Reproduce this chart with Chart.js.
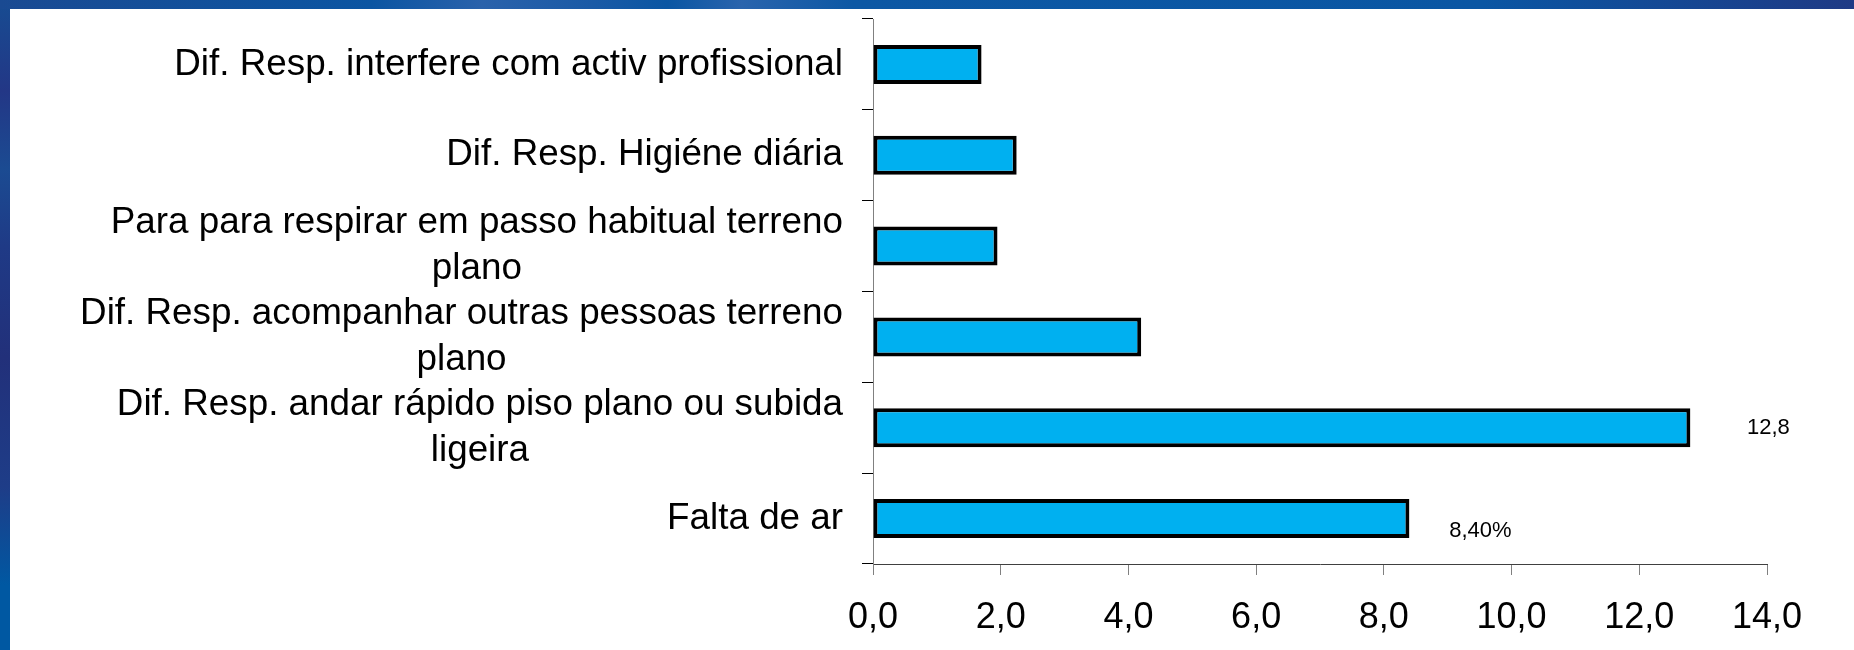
<!DOCTYPE html>
<html><head><meta charset="utf-8">
<script src="https://cdn.jsdelivr.net/npm/chart.js@4.4.1/dist/chart.umd.min.js"></script>
<style>
html,body{margin:0;padding:0;width:1854px;height:650px;overflow:hidden;}
body{position:relative;background:linear-gradient(180deg,#174c92 0%,#233786 14%,#1b4b92 26%,#1f3a86 38%,#22307a 55%,#1e3d88 75%,#0058a2 90%,#0058a2 100%);}
#top{position:absolute;left:0;top:0;width:1854px;height:9px;background:linear-gradient(90deg,#1a4a92 0%,#0b55a2 20%,#2a62ab 26%,#1a5aa6 32%,#0a56a3 36%,#2a64ad 40%,#0d58a4 46%,#0a56a3 80%,#1f3a85 100%);}
#panel{position:absolute;left:10px;top:9px;right:0;bottom:0;background:#fff;}
#wrap{position:absolute;left:0;top:0;width:1854px;height:650px;}
</style></head>
<body><div id="top"></div><div id="panel"></div><div id="wrap"><canvas id="c" width="1854" height="650"></canvas></div>
<script>
const categories = [
  ['Dif. Resp. interfere com activ profissional'],
  ['Dif. Resp. Higiéne diária'],
  ['Para para respirar em passo habitual terreno', 'plano'],
  ['Dif. Resp. acompanhar outras pessoas terreno', 'plano'],
  ['Dif. Resp. andar rápido piso plano ou subida', 'ligeira'],
  ['Falta de ar']
];
const values = [1.7, 2.25, 1.95, 4.2, 12.8, 8.4];
const valueLabels = ['', '', '', '', '12,8', '8,40%'];
const xTickLabels = ['0,0', '2,0', '4,0', '6,0', '8,0', '10,0', '12,0', '14,0'];

const FONT = '"Liberation Sans", Arial, sans-serif';

const catLabelPlugin = {
  id: 'catLabels',
  afterDraw(chart) {
    const ctx = chart.ctx, y = chart.scales.y;
    const right = y.right - 11 - 19;
    const lh = 46;
    ctx.save();
    ctx.font = '36.8px ' + FONT;
    ctx.fillStyle = '#000';
    ctx.textBaseline = 'middle';
    ctx.textAlign = 'center';
    categories.forEach((lines, i) => {
      const cy = y.getPixelForValue(i);
      const W = Math.max(...lines.map(l => ctx.measureText(l).width));
      lines.forEach((l, k) => {
        ctx.fillText(l, right - W / 2, cy + (k - (lines.length - 1) / 2) * lh);
      });
    });
    ctx.restore();
  }
};

const valueLabelPlugin = {
  id: 'valueLabels',
  afterDatasetsDraw(chart, args, opts) {
    const ctx = chart.ctx;
    const meta = chart.getDatasetMeta(0);
    ctx.save();
    ctx.font = '22px ' + FONT;
    ctx.fillStyle = '#000';
    ctx.textBaseline = 'middle';
    ctx.textAlign = 'center';
    valueLabels.forEach((t, i) => {
      if (!t) return;
      const el = meta.data[i];
      const off = opts.offsets[i] || {dx: 70, dy: 0};
      ctx.fillText(t, el.x + off.dx, el.y + off.dy);
    });
    ctx.restore();
  }
};

new Chart(document.getElementById('c'), {
  type: 'bar',
  data: {
    labels: categories.map(c => c.join(' ')),
    datasets: [{
      data: values,
      backgroundColor: '#00b0f0',
      borderColor: '#000',
      borderWidth: 4,
      borderSkipped: false,
      categoryPercentage: 1,
      barPercentage: 0.43
    }]
  },
  options: {
    indexAxis: 'y',
    responsive: false,
    animation: false,
    layout: {padding: {left: 0, right: 87, top: 19, bottom: 0}},
    plugins: {
      legend: {display: false},
      tooltip: {enabled: false},
      valueLabels: {offsets: {4: {dx: 78, dy: 0}, 5: {dx: 71, dy: 12}}}
    },
    scales: {
      x: {
        min: 0, max: 14,
        ticks: {
          stepSize: 2, color: '#000', padding: 21, maxRotation: 0, autoSkip: false,
          font: {family: FONT, size: 36},
          callback: (v, i) => xTickLabels[i]
        },
        grid: {display: true, drawOnChartArea: false, drawTicks: true, tickLength: 11, color: '#808080', lineWidth: 1},
        border: {display: true, color: '#404040', width: 1},
        afterFit: s => { s.height = 86; }
      },
      y: {
        type: 'category',
        ticks: {display: false},
        grid: {display: true, drawOnChartArea: false, drawTicks: true, tickLength: 11, color: '#000', lineWidth: 1, offset: true},
        border: {display: true, color: '#808080', width: 1},
        afterFit: s => { s.width = 873; }
      }
    }
  },
  plugins: [catLabelPlugin, valueLabelPlugin]
});
</script>
</body></html>
